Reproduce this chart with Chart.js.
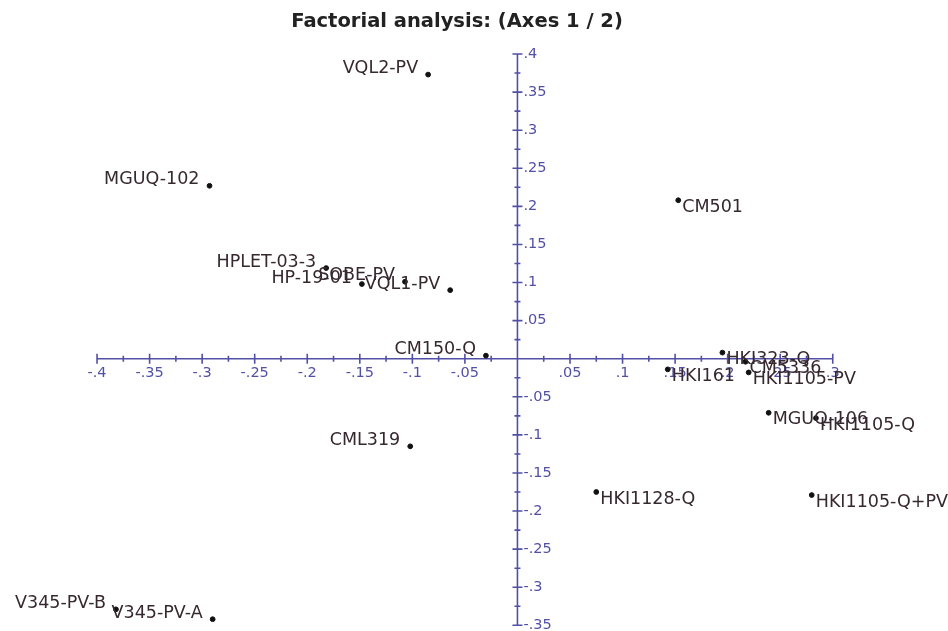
<!DOCTYPE html>
<html>
<head>
<meta charset="utf-8">
<script src="https://cdn.jsdelivr.net/npm/chart.js@4.4.1/dist/chart.umd.min.js"></script>
<style>
  html, body { margin: 0; padding: 0; background: #fff; }
  #wrap { width: 948px; height: 631px; }
</style>
</head>
<body>
<div id="wrap"><canvas id="chart"></canvas></div>
<script>
// observations (label, F1, F2)
const names = ['VQL2-PV', 'MGUQ-102', 'CM501', 'HPLET-03-3', 'HP-19-01', 'SOBE-PV', 'VQL1-PV',
  'CM150-Q', 'HKI323-Q', 'CM5336', 'HKI161', 'HKI1105-PV', 'MGUQ-106', 'HKI1105-Q',
  'CML319', 'HKI1128-Q', 'HKI1105-Q+PV', 'V345-PV-B', 'V345-PV-A'];
const axis1 = [-0.085, -0.293, 0.153, -0.182, -0.148, -0.107, -0.064,
  -0.030, 0.195, 0.217, 0.143, 0.220, 0.239, 0.284,
  -0.102, 0.075, 0.280, -0.382, -0.290];
const axis2 = [0.373, 0.227, 0.208, 0.119, 0.098, 0.101, 0.090,
  0.004, 0.008, -0.004, -0.014, -0.018, -0.071, -0.078,
  -0.115, -0.175, -0.179, -0.329, -0.342];

const xTicks = [-0.4, -0.35, -0.3, -0.25, -0.2, -0.15, -0.1, -0.05, 0, 0.05, 0.1, 0.15, 0.2, 0.25, 0.3];
const xTickLabels = ['-.4', '-.35', '-.3', '-.25', '-.2', '-.15', '-.1', '-.05', '', '.05', '.1', '.15', '.2', '.25', '.3'];
const yTicks = [0.4, 0.35, 0.3, 0.25, 0.2, 0.15, 0.1, 0.05, 0, -0.05, -0.1, -0.15, -0.2, -0.25, -0.3, -0.35];
const yTickLabels = ['.4', '.35', '.3', '.25', '.2', '.15', '.1', '.05', '', '-.05', '-.1', '-.15', '-.2', '-.25', '-.3', '-.35'];

const axisColor = '#5250a6';
const labelColor = '#36282f';

// axes crossing at the origin, like the original software draws them
const crossAxes = {
  id: 'crossAxes',
  beforeDatasetsDraw(chart) {
    const {ctx, scales: {x, y}} = chart;
    const x0 = x.getPixelForValue(0);
    const y0 = y.getPixelForValue(0);
    ctx.save();
    ctx.strokeStyle = axisColor;
    ctx.lineWidth = 1.6;
    ctx.beginPath();
    ctx.moveTo(x.getPixelForValue(xTicks[0]), y0);
    ctx.lineTo(x.getPixelForValue(xTicks[xTicks.length - 1]), y0);
    ctx.moveTo(x0, y.getPixelForValue(yTicks[0]));
    ctx.lineTo(x0, y.getPixelForValue(yTicks[yTicks.length - 1]));
    xTicks.forEach(v => {
      const px = x.getPixelForValue(v);
      ctx.moveTo(px, y0 - 5);
      ctx.lineTo(px, y0 + 5);
    });
    yTicks.forEach(v => {
      const py = y.getPixelForValue(v);
      ctx.moveTo(x0 - 5, py);
      ctx.lineTo(x0 + 5, py);
    });
    // minor ticks
    for (let i = 0; i < xTicks.length - 1; i++) {
      const px = x.getPixelForValue((xTicks[i] + xTicks[i + 1]) / 2);
      ctx.moveTo(px, y0 - 3);
      ctx.lineTo(px, y0 + 3);
    }
    for (let i = 0; i < yTicks.length - 1; i++) {
      const py = y.getPixelForValue((yTicks[i] + yTicks[i + 1]) / 2);
      ctx.moveTo(x0 - 3, py);
      ctx.lineTo(x0 + 3, py);
    }
    ctx.stroke();

    ctx.fillStyle = axisColor;
    ctx.font = '14.5px "DejaVu Sans"';
    ctx.textAlign = 'center';
    ctx.textBaseline = 'middle';
    xTicks.forEach((v, i) => {
      ctx.fillText(xTickLabels[i], x.getPixelForValue(v), y0 + 15);
    });
    ctx.textAlign = 'left';
    yTicks.forEach((v, i) => {
      ctx.fillText(yTickLabels[i], x0 + 6, y.getPixelForValue(v));
    });
    ctx.restore();
  }
};

// point labels: left of the dot for negative F1, right of it otherwise
const pointLabels = {
  id: 'pointLabels',
  afterDatasetsDraw(chart) {
    const {ctx} = chart;
    const meta = chart.getDatasetMeta(0);
    ctx.save();
    ctx.fillStyle = labelColor;
    ctx.font = '17.5px "DejaVu Sans"';
    ctx.textBaseline = 'middle';
    meta.data.forEach((pt, i) => {
      if (axis1[i] < 0) {
        ctx.textAlign = 'right';
        ctx.fillText(names[i], pt.x - 10, pt.y - 6);
      } else {
        ctx.textAlign = 'left';
        ctx.fillText(names[i], pt.x + 4, pt.y + 7);
      }
    });
    ctx.restore();
  }
};

const chart = new Chart(document.getElementById('chart'), {
  type: 'scatter',
  data: {
    datasets: [{
      label: 'Observations',
      data: axis1.map((v, i) => ({x: v, y: axis2[i]})),
      backgroundColor: '#111',
      borderColor: '#111',
      pointRadius: 2.4,
      pointHoverRadius: 2.4
    }]
  },
  options: {
    responsive: true,
    maintainAspectRatio: false,
    animation: false,
    layout: { padding: { left: 0, right: 34, top: 0, bottom: 0 } },
    plugins: {
      legend: { display: false },
      tooltip: { enabled: false },
      title: {
        display: true,
        text: 'Factorial analysis: (Axes 1 / 2)',
        color: '#222',
        font: { family: 'DejaVu Sans', size: 19.5, weight: 'bold', lineHeight: 1.2 },
        padding: { top: 10, bottom: 6.6 }
      }
    },
    scales: {
      x: { type: 'linear', display: false, min: -0.4891, max: 0.3773 },
      y: { type: 'linear', display: false, min: -0.3530, max: 0.4184 }
    }
  },
  plugins: [crossAxes, pointLabels]
});
</script>
</body>
</html>
